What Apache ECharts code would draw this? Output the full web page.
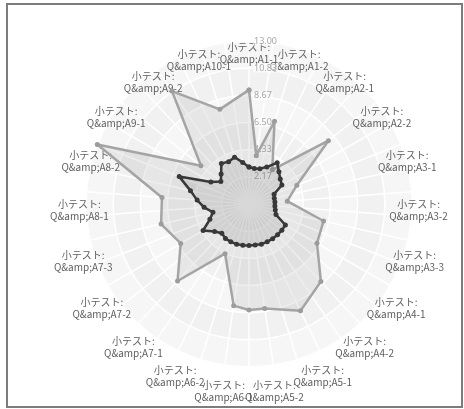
<!DOCTYPE html>
<html>
<head>
<meta charset="utf-8">
<script src="https://cdn.jsdelivr.net/npm/echarts@6/dist/echarts.min.js"></script>
<style>
  html, body { margin: 0; padding: 0; background: #ffffff; }
  #chart { width: 464px; height: 409px; }
</style>
</head>
<body>
<div id="chart"></div>
<script>
// Quiz items shown around the chart (one label on every other spoke)
const questionLabels = [
  '小テスト:\nQ&amp;A1-1', '小テスト:\nQ&amp;A1-2', '小テスト:\nQ&amp;A2-1',
  '小テスト:\nQ&amp;A2-2', '小テスト:\nQ&amp;A3-1', '小テスト:\nQ&amp;A3-2',
  '小テスト:\nQ&amp;A3-3', '小テスト:\nQ&amp;A4-1', '小テスト:\nQ&amp;A4-2',
  '小テスト:\nQ&amp;A5-1', '小テスト:\nQ&amp;A5-2', '小テスト:\nQ&amp;A6-1',
  '小テスト:\nQ&amp;A6-2', '小テスト:\nQ&amp;A7-1', '小テスト:\nQ&amp;A7-2',
  '小テスト:\nQ&amp;A7-3', '小テスト:\nQ&amp;A8-1', '小テスト:\nQ&amp;A8-2',
  '小テスト:\nQ&amp;A9-1', '小テスト:\nQ&amp;A9-2', '小テスト:\nQ&amp;A10-1'
];

// Scale of every spoke
const scoreMin = 0;
const scoreMax = 13;
const scoreSplits = 6;

// Light series: null where the item has no score (the outline skips it)
const lightScores = [
  9.1, 3.9, 6.9, null, 3.3, null, 8.1, null, 4.1, null,
  3.06, null, 6.1, null, 6.26, null, 8.43, null, 9.46, null,
  8.42, 8.45, 8.2, null, 4.4, null, 8.38, null, 6.29, null,
  7.19, null, 6.96, null, 13.0, null, 4.9, null, 10.9, null,
  7.9, null
];

// Dark series: a score on every spoke
const darkScores = [
  2.95, 2.87, 2.95, 3.27, 3.99, 3.51, 3.19, 3.03, 2.15, 2.07,
  2.07, 2.07, 2.15, 2.31, 3.35, 3.35, 3.35, 3.35, 3.35, 3.35,
  3.31, 3.31, 3.32, 3.35, 3.35, 3.33, 3.19, 3.51, 4.23, 3.35,
  2.95, 3.59, 4.15, 4.79, 5.98, 3.51, 2.87, 3.27, 3.91, 3.75,
  3.91, 3.35
];

const spokeCount = darkScores.length;
const spokeStep = 360 / spokeCount;
const center = [249, 204];
const labelCenter = [249, 223];
const radius = 163;

// Every other spoke carries a question label
const spokeLabels = Array.from({ length: spokeCount }, (_, k) =>
  k % 2 === 0 ? questionLabels[k / 2] : '');

// Radar indicators run counter-clockwise, spokes here run clockwise from the top
function makeIndicators(withNames, withTicks) {
  return Array.from({ length: spokeCount }, (_, j) => {
    const ind = {
      name: withNames ? spokeLabels[(spokeCount - j) % spokeCount] : '',
      min: scoreMin,
      max: scoreMax,
      nameMoveOverlap: false
    };
    if (withTicks && j === 0) {
      ind.axisLabel = {
        show: true,
        showMinLabel: false,
        formatter: v => Number(v).toFixed(2),
        color: '#a6a6a6',
        fontSize: 9,
        fontFamily: 'Noto Sans',
        margin: -4,
        align: 'left',
        backgroundColor: 'rgba(255,255,255,0.55)',
        padding: [0, 1]
      };
    }
    return ind;
  });
}

// Scores as [radius, angle] points on the polar system, closed back at 360°
function toPolar(scores) {
  const pts = scores.map((v, k) => [v === null ? '-' : v, k * spokeStep]);
  pts.push([scores[0], 360]);
  return pts;
}

const chart = echarts.init(document.getElementById('chart'), null, { renderer: 'canvas' });

chart.setOption({
  animation: false,
  backgroundColor: '#ffffff',
  graphic: [{
    type: 'rect',
    shape: { x: 7, y: 4, width: 455, height: 403 },
    style: { fill: 'none', stroke: '#7d7d7d', lineWidth: 2 },
    z: 100
  }],
  radar: [
    {
      // grid: rings, spokes and the value ticks
      center: center,
      radius: radius,
      startAngle: 90,
      shape: 'circle',
      splitNumber: scoreSplits,
      indicator: makeIndicators(false, true),
      axisName: { show: false },
      axisLine: { lineStyle: { color: '#ffffff', width: 1.5 } },
      splitLine: { lineStyle: { color: '#ffffff', width: 1.5 } },
      splitArea: { areaStyle: { color: ['#f1f1f1', '#f6f6f6'] } }
    },
    {
      // question labels around the grid
      center: labelCenter,
      radius: radius,
      startAngle: 90,
      shape: 'circle',
      splitNumber: scoreSplits,
      indicator: makeIndicators(true, false),
      nameGap: 7,
      axisName: {
        color: '#5e5e5e',
        fontSize: 10,
        lineHeight: 12,
        fontFamily: 'Noto Sans CJK JP',
        align: 'center',
        verticalAlign: 'middle'
      },
      axisLine: { show: false },
      splitLine: { show: false },
      splitArea: { show: false },
      axisTick: { show: false },
      axisLabel: { show: false }
    }
  ],
  polar: { center: center, radius: radius },
  angleAxis: { type: 'value', min: 0, max: 360, startAngle: 90, clockwise: true, show: false },
  radiusAxis: { type: 'value', min: scoreMin, max: scoreMax, show: false },
  series: [
    {
      type: 'line',
      coordinateSystem: 'polar',
      data: toPolar(lightScores),
      connectNulls: true,
      symbol: 'circle',
      symbolSize: 5,
      lineStyle: { color: '#a4a4a4', width: 2.5 },
      itemStyle: { color: '#9c9c9c' },
      areaStyle: { color: 'rgba(120,120,120,0.18)' },
      z: 3
    },
    {
      type: 'line',
      coordinateSystem: 'polar',
      data: toPolar(darkScores),
      symbol: 'circle',
      symbolSize: 5,
      lineStyle: { color: '#383838', width: 2.5 },
      itemStyle: { color: '#383838' },
      areaStyle: { color: 'rgba(100,100,100,0.22)' },
      z: 4
    }
  ]
});
</script>
</body>
</html>
